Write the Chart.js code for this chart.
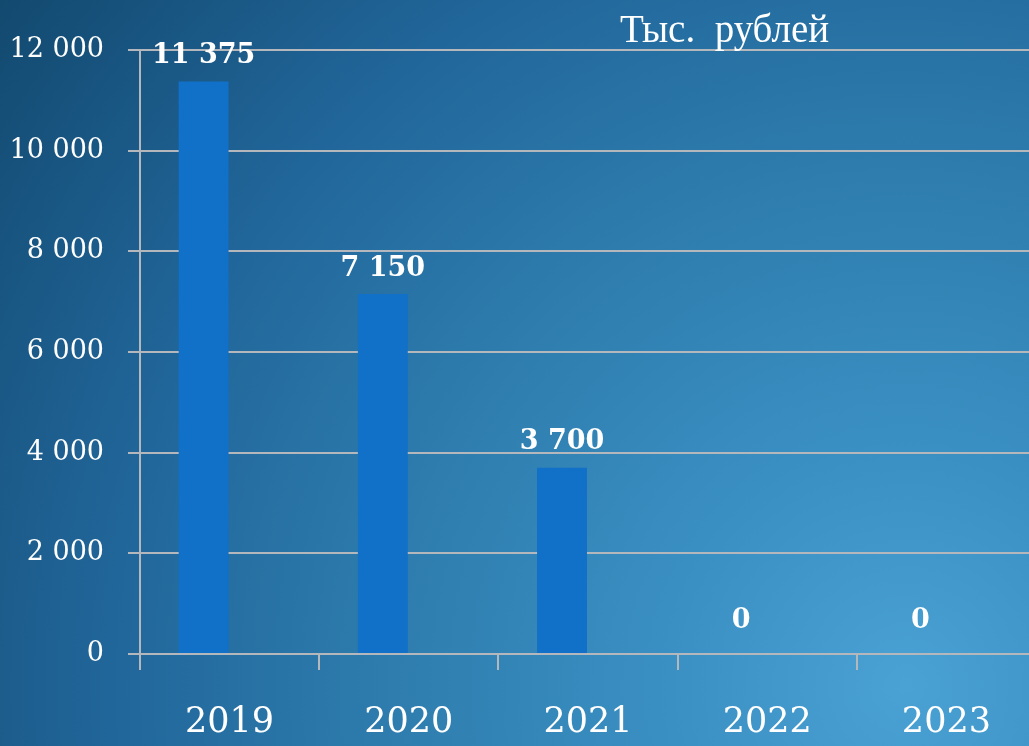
<!DOCTYPE html>
<html>
<head>
<meta charset="utf-8">
<script src="https://cdn.jsdelivr.net/npm/chart.js@4"></script>
<style>
  html, body { margin: 0; padding: 0; overflow: hidden; }
  body {
    width: 1029px; height: 746px;
    background: radial-gradient(circle at 88% 92%, #4aa1d3 0%, #3a8fc2 22%, #2e7dae 45%, #21669a 70%, #12496f 100%);
  }
  #wrap { position: relative; width: 1036px; height: 746px; }
  #unit {
    position: absolute; left: 620px; top: 6px;
    font-family: "Liberation Serif", serif; font-size: 39px; color: #fff;
    white-space: pre;
  }
</style>
</head>
<body>
<div id="wrap">
  <canvas id="myChart"></canvas>
  <div id="unit">Тыс.  рублей</div>
</div>
<script>
// data
const years = ["2019", "2020", "2021", "2022", "2023"];
const amounts = [11375, 7150, 3700, 0, 0];
const emptySeries = [null, null, null, null, null];
const yTicks = [0, 2000, 4000, 6000, 8000, 10000, 12000];

const fmt = (v) => String(v).replace(/\B(?=(\d{3})+(?!\d))/g, " ");
const gridColor = "#b4b8bc";
const serif = "'DejaVu Serif', 'Liberation Serif', serif";

// draw the value labels above bars
const valueLabels = {
  id: "valueLabels",
  afterDatasetsDraw(chart) {
    const ctx = chart.ctx;
    const meta = chart.getDatasetMeta(0);
    ctx.save();
    ctx.fillStyle = "#ffffff";
    ctx.font = "bold 27px " + serif;
    ctx.textAlign = "center";
    ctx.textBaseline = "bottom";
    meta.data.forEach((bar, i) => {
      const off = amounts[i] === 0 ? 20 : 12;
      ctx.fillText(fmt(amounts[i]), bar.x, bar.y - off);
    });
    ctx.restore();
  },
};

Chart.defaults.font.family = serif;
Chart.defaults.color = "#ffffff";

new Chart(document.getElementById("myChart"), {
  type: "bar",
  data: {
    labels: years,
    datasets: [
      {
        label: "amount",
        data: amounts,
        backgroundColor: "#1170c8",
        categoryPercentage: 0.58,
        barPercentage: 0.96,
      },
      {
        label: "empty",
        data: emptySeries,
        backgroundColor: "transparent",
        categoryPercentage: 0.58,
        barPercentage: 0.96,
      },
    ],
  },
  options: {
    responsive: true,
    maintainAspectRatio: false,
    animation: false,
    layout: { padding: { top: 50, right: 0, left: 0, bottom: 0 } },
    plugins: { legend: { display: false }, tooltip: { enabled: false } },
    scales: {
      x: {
        afterFit: (s) => { s.height = 92; },
        grid: {
          offset: true,
          drawOnChartArea: false,
          drawTicks: true,
          tickLength: 16,
          color: gridColor,
          lineWidth: 2,
        },
        border: { display: true, color: gridColor, width: 2 },
        ticks: { color: "#fff", font: { size: 35 }, padding: 32 },
      },
      y: {
        min: 0,
        max: 12000,
        afterFit: (s) => { s.width = 140; },
        afterBuildTicks: (s) => { s.ticks = yTicks.map((v) => ({ value: v })); },
        grid: { color: gridColor, lineWidth: 2, tickLength: 12 },
        border: { display: true, color: gridColor, width: 2 },
        ticks: {
          color: "#fff",
          font: { size: 27 },
          padding: 24,
          callback: (v) => fmt(v),
        },
      },
    },
  },
  plugins: [valueLabels],
});
</script>
</body>
</html>
